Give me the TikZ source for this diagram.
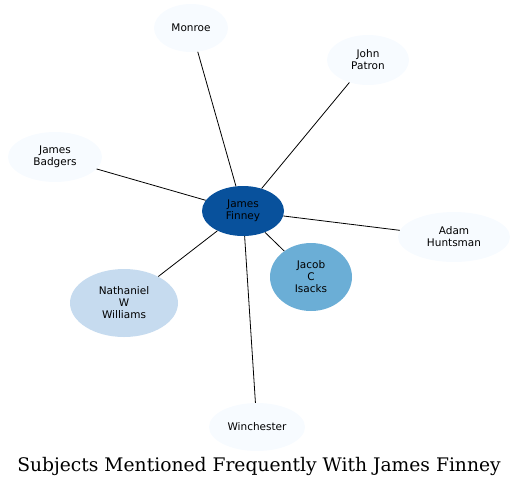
\documentclass[tikz,border=0pt]{standalone}
\usepackage{fontspec}
\setmainfont{DejaVu Sans}
\newfontfamily\titlefont{DejaVu Serif}
\usetikzlibrary{shapes.geometric}
\definecolor{hub}{HTML}{08519C}
\definecolor{midblue}{HTML}{6BAED6}
\definecolor{lightblue}{HTML}{C6DBEF}
\definecolor{paleblue}{HTML}{F7FBFF}
\tikzset{
    person/.style={ellipse, fill=#1, inner sep=0pt, align=center,
        font=\fontsize{10.5}{12}\selectfont},
    link/.style={black, line width=0.8pt}
}
\begin{document}
\begin{tikzpicture}[x=1pt, y=-1pt]
        \useasboundingbox (0,0) rectangle (519,488);
        \node[person=hub, minimum width=82, minimum height=50] (finney) at (243,211) {James\\Finney};
        \node[person=paleblue, minimum width=74, minimum height=48] (monroe) at (191,28) {Monroe};
        \node[person=paleblue, minimum width=82, minimum height=50] (patron) at (368,60) {John\\Patron};
        \node[person=paleblue, minimum width=94, minimum height=50] (badgers) at (55,157) {James\\Badgers};
        \node[person=paleblue, minimum width=112, minimum height=50] (huntsman) at (454,237) {Adam\\Huntsman};
        \node[person=lightblue, minimum width=108, minimum height=68] (williams) at (124,303) {Nathaniel\\W\\Williams};
        \node[person=midblue, minimum width=82, minimum height=68] (isacks) at (311,277) {Jacob\\C\\Isacks};
        \node[person=paleblue, minimum width=96, minimum height=48] (winchester) at (257,427) {Winchester};
        \draw[link] (finney) -- (monroe);
        \draw[link] (finney) -- (patron);
        \draw[link] (finney) -- (badgers);
        \draw[link] (finney) -- (huntsman);
        \draw[link] (finney) -- (williams);
        \draw[link] (finney) -- (isacks);
        \draw[link] (finney) -- (winchester);
        \node[font=\titlefont\fontsize{18.7}{22}\selectfont] (title) at (259,466) {Subjects Mentioned Frequently With James Finney};
    \end{tikzpicture}
\end{document}
